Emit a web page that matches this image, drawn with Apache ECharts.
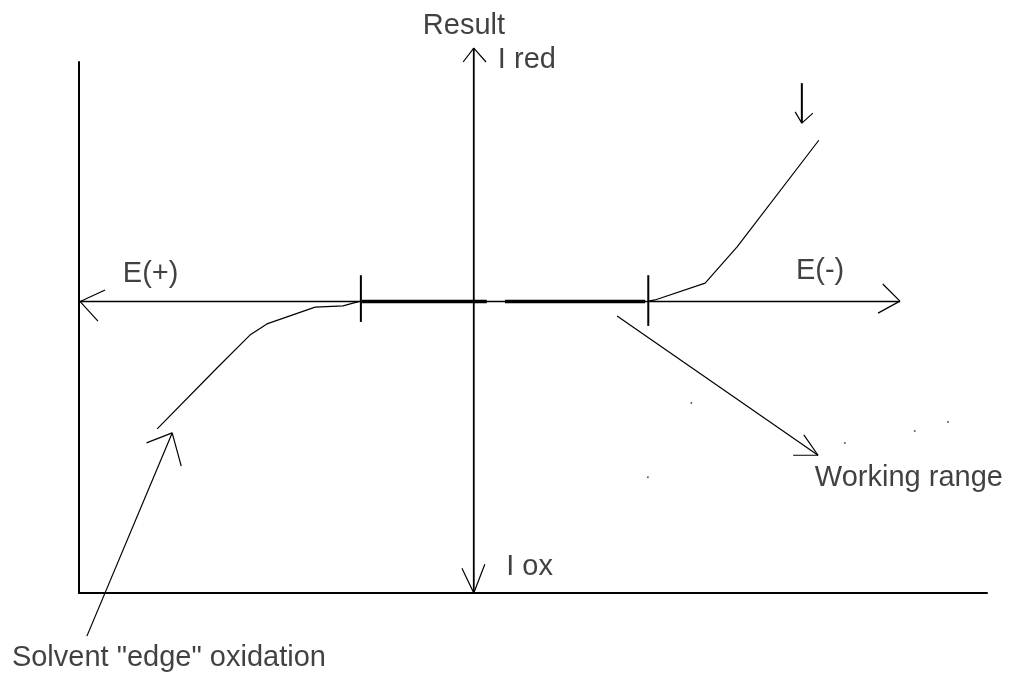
<!DOCTYPE html>
<html lang="en">
<head>
    <meta charset="UTF-8">
    <title>Working range</title>
    <style>
        html, body { margin: 0; padding: 0; background: #fff; }
        #chart { width: 1023px; height: 676px; }
    </style>
</head>
<body>
<div id="chart"></div>
<script src="https://cdn.jsdelivr.net/npm/echarts@6/dist/echarts.min.js"></script>
<script>
    // axis frame: E from -100 to 130, current from -73 to 60 (arbitrary units)
    var eMin = -100, eMax = 130;
    var iMin = -73, iMax = 60;

    // E axis (horizontal, with arrows both ends)
    var eAxisLine = [[-99.7, 0], [107.95, 0]];
    var eArrowLeft = [[-93.4, 2.9], [-99.7, 0], [-95.2, -4.9]];
    var eArrowRight = [[103.6, 4.4], [107.95, 0.1], [102.4, -2.9]];

    // I axis (vertical, arrows both ends)
    var iAxisLine = [[0, 63.5], [0, -73]];
    var iArrowTop = [[-2.7, 60], [0, 63.5], [3.1, 60]];
    var iArrowBottom = [[-3.0, -66.8], [0, -73], [2.8, -65.8]];

    // limits of the working range
    var tickLeft = [[-28.6, 6.6], [-28.6, -5.1]];
    var tickRight = [[44.2, 6.6], [44.2, -6.1]];
    var flatLeft = [[-28.3, 0], [3.3, 0]];
    var flatRight = [[7.9, 0], [43.4, 0]];

    // oxidation edge (left) and reduction edge (right)
    var oxCurve = [[-28.6, 0.1], [-30.6, -0.4], [-33.1, -1.1], [-40.2, -1.4], [-52.4, -5.6],
                   [-56.7, -8.4], [-64.8, -16.4], [-80.2, -31.9]];
    var redCurve = [[44.2, 0.1], [45.9, 0.4], [58.6, 4.6], [66.7, 13.7], [87.4, 40.4]];

    // pointer arrows
    var downShaft = [[83.1, 54.7], [83.1, 44.7]];
    var downHead = [[81.4, 47.5], [83.1, 44.7], [85.9, 47.2]];
    var workShaft = [[36.3, -3.6], [87.2, -38.5]];
    var workHead = [[80.9, -38.5], [87.2, -38.5], [83.6, -33.4]];
    var solvShaft = [[-98.0, -83.8], [-76.4, -32.9]];
    var solvHead = [[-82.9, -35.4], [-76.4, -32.9], [-74.1, -41.2]];

    // stray specks in the scan
    var specks = [[55.1, -25.4], [94.0, -35.4], [111.7, -32.4], [120.1, -30.2], [44.1, -44.0]];

    // labels (left edge, vertical middle)
    var labelText = ['Result', 'I red', 'E(+)', 'E(-)', 'I ox', 'Working range', 'Solvent "edge" oxidation'];
    var labelX = [-12.9, 6.1, -88.9, 81.6, 8.2, 86.4, -117];
    var labelY = [69.1, 60.6, 6.9, 7.6, -66.5, -44.1, -89.3];

    var chart = echarts.init(document.getElementById('chart'));

    function poly(data, width) {
        return {
            type: 'line',
            data: data,
            symbol: 'none',
            clip: false,
            silent: true,
            lineStyle: { color: '#000', width: width },
            z: 3
        };
    }

    var series = [
        poly(eAxisLine, 1.5), poly(eArrowLeft, 1.2), poly(eArrowRight, 1.2),
        poly(iAxisLine, 1.8), poly(iArrowTop, 1.2), poly(iArrowBottom, 1.2),
        poly(tickLeft, 2), poly(tickRight, 2),
        poly(flatLeft, 3.5), poly(flatRight, 3.5),
        poly(oxCurve, 1.2), poly(redCurve, 1.2),
        poly(downShaft, 2), poly(downHead, 1.2),
        poly(workShaft, 1.2), poly(workHead, 1.2),
        poly(solvShaft, 1.2), poly(solvHead, 1.2)
    ];

    series.push({
        type: 'scatter',
        data: specks,
        symbolSize: 2,
        itemStyle: { color: '#333' },
        silent: true
    });

    var labelData = [];
    for (var i = 0; i < labelText.length; i++) {
        labelData.push({ name: labelText[i], value: [labelX[i], labelY[i]] });
    }
    series.push({
        type: 'scatter',
        data: labelData,
        symbolSize: 0,
        clip: false,
        silent: true,
        label: {
            show: true,
            position: 'right',
            distance: 0,
            formatter: '{b}',
            color: '#111',
            fontSize: 29,
            fontFamily: '"Liberation Sans", Arial, sans-serif'
        }
    });

    var option = {
        animation: false,
        backgroundColor: '#fff',
        grid: { left: 79, right: 36, top: 62, bottom: 83 },
        xAxis: {
            type: 'value', min: eMin, max: eMax,
            axisLine: { show: true, onZero: false, lineStyle: { color: '#000', width: 2 } },
            axisTick: { show: false }, axisLabel: { show: false }, splitLine: { show: false }
        },
        yAxis: {
            type: 'value', min: iMin, max: iMax,
            axisLine: { show: true, onZero: false, lineStyle: { color: '#000', width: 2 } },
            axisTick: { show: false }, axisLabel: { show: false }, splitLine: { show: false }
        },
        series: series
    };

    chart.setOption(option);
</script>
</body>
</html>
